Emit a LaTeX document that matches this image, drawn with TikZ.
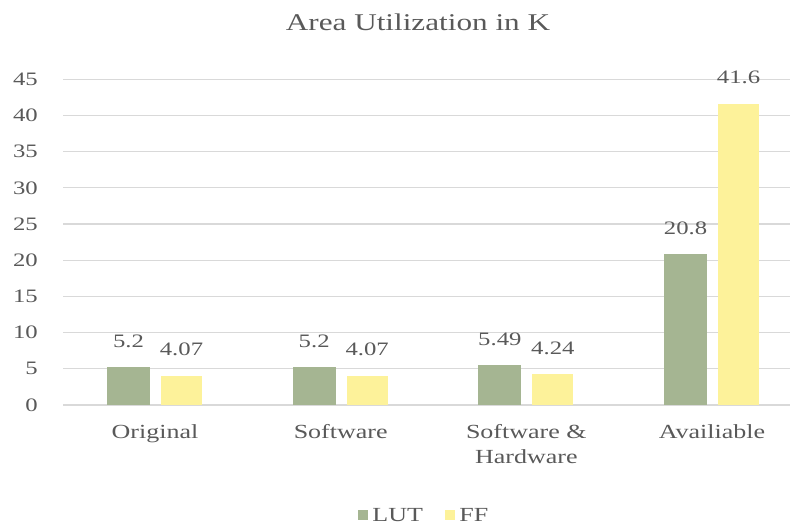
\documentclass[tikz,border=0pt]{standalone}
\usepackage{fontspec}
\setmainfont{Liberation Serif}
\usepackage{tikz}
\usetikzlibrary{positioning}

\definecolor{lutgreen}{HTML}{A5B592}
\definecolor{ffyellow}{HTML}{FDF29A}
\definecolor{gridgray}{HTML}{D9D9D9}
\definecolor{labelgray}{HTML}{595959}

% text in this chart is set a bit wider than normal
\newcommand{\wide}[1]{\scalebox{1.3}[1]{#1}}

\begin{document}
\begin{tikzpicture}[x=1pt,y=1pt,
  lbl/.style={text=labelgray,font=\fontsize{19}{25}\selectfont,inner sep=0pt},
  catlbl/.style={lbl,font=\fontsize{20}{25}\selectfont,anchor=north,align=center},
  lutbar/.style={fill=lutgreen,draw=none},
  ffbar/.style={fill=ffyellow,draw=none}]
\useasboundingbox (-63,-124) rectangle (730,405);

\node[lbl,font=\fontsize{24}{29}\selectfont] (title) at (355,383) {\wide{Area Utilization in K}};

% grid lines and y labels, 5 units = 36.2pt
\foreach \k in {0,...,9}{
  \draw[gridgray,line width=1.2pt] (0,\k*36.2) -- (727,\k*36.2);
  \pgfmathtruncatemacro{\tick}{5*\k}
  \node[lbl,anchor=east] (tick\k) at (-25,\k*36.2) {\wide{\tick}};
}

% bars and their values
\foreach \i/\lut/\ff in {0/5.2/4.07,1/5.2/4.07,2/5.49/4.24,3/20.8/41.6}{
  \pgfmathsetmacro{\cx}{92+185.67*\i}
  \fill[lutbar] (\cx-48,0) rectangle (\cx-5,\lut*7.24);
  \fill[ffbar] (\cx+6,0) rectangle (\cx+47,\ff*7.24);
  \node[lbl] (lut\i) at (\cx-26.5,\lut*7.24+26) {\wide{\lut}};
  \node[lbl] (ff\i) at (\cx+26.5,\ff*7.24+26) {\wide{\ff}};
}

% categories
\node[catlbl] (cat0) at (92,-19) {\wide{Original}};
\node[catlbl] (cat1) at (277.7,-19) {\wide{Software}};
\node[catlbl] (cat2) at (463.3,-19) {\wide{Software \&}\\\wide{Hardware}};
\node[catlbl] (cat3) at (649,-19) {\wide{Availiable}};

% legend
\node[lutbar,minimum size=10pt,inner sep=0pt] (keylut) at (300,-110) {};
\node[lbl,font=\fontsize{20}{25}\selectfont,right=4pt of keylut] (txtlut) {\wide{LUT}};
\node[ffbar,minimum size=10pt,inner sep=0pt] (keyff) at (387,-110) {};
\node[lbl,font=\fontsize{20}{25}\selectfont,right=4pt of keyff] (txtff) {\wide{FF}};
\end{tikzpicture}
\end{document}
